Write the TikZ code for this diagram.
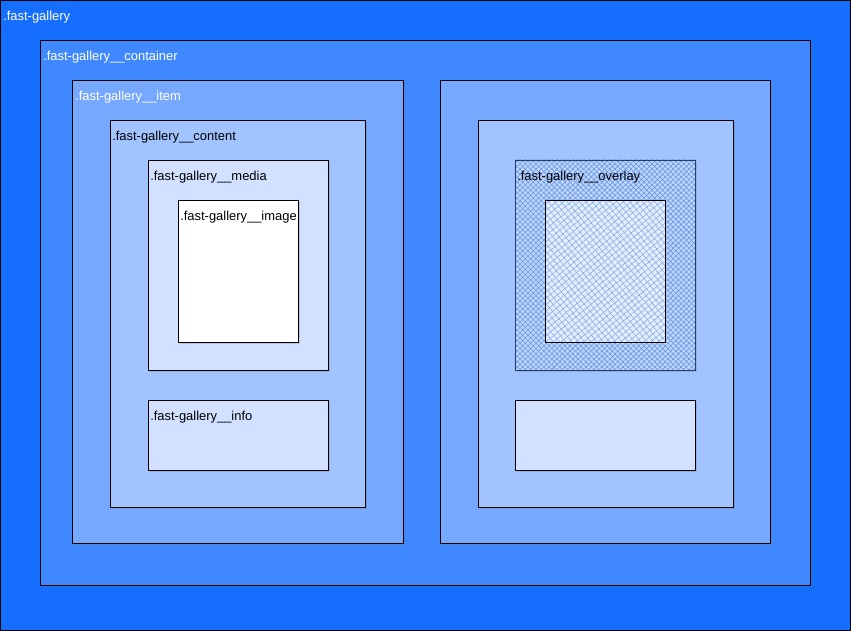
\documentclass[tikz,border=0pt]{standalone}
\usepackage{fontspec}
\setmainfont{Liberation Sans}
\usetikzlibrary{patterns.meta,shadows}
\definecolor{gallery}{HTML}{166EFF}
\definecolor{containerc}{HTML}{3F88FF}
\definecolor{itemc}{HTML}{76A8FF}
\definecolor{contentc}{HTML}{A1C3FF}
\definecolor{mediac}{HTML}{D1E1FF}
\definecolor{hatchc}{HTML}{4A86EA}
\tikzset{
  layer/.style={draw=black, line width=0.6pt, drop shadow={shadow xshift=1.2pt, shadow yshift=-1.2pt, opacity=0.3}},
  lbl/.style={anchor=north west, inner sep=0pt, font=\fontsize{9.7pt}{11pt}\selectfont},
  wlbl/.style={lbl, text=white},
}
\begin{document}
\begin{tikzpicture}[x=0.75pt,y=-0.75pt]
\useasboundingbox (0,0) rectangle (851,631);
% gallery root
\path[fill=gallery, draw=black, line width=0.6pt] (0.5,0.5) rectangle (850.5,630.5);
\node[wlbl] (lgallery) at (3,10.5) {.fast-gallery};
% container
\path[layer, fill=containerc] (40,40) rectangle (810,585);
\node[wlbl] (lcontainer) at (43,50.5) {.fast-gallery\_\_container};
% first item
\path[layer, fill=itemc] (72,80) rectangle (403,543);
\node[wlbl] (litem) at (75,90.5) {.fast-gallery\_\_item};
\path[layer, fill=contentc] (110,120) rectangle (365,507);
\node[lbl] (lcontent) at (112,130.5) {.fast-gallery\_\_content};
\path[layer, fill=mediac] (148,160) rectangle (328,370);
\node[lbl] (lmedia) at (150,170.5) {.fast-gallery\_\_media};
\path[layer, fill=white] (178,200) rectangle (298,342);
\node[lbl] (limage) at (180,210.5) {.fast-gallery\_\_image};
\path[layer, fill=mediac] (148,400) rectangle (328,470);
\node[lbl] (linfo) at (150,410.5) {.fast-gallery\_\_info};
% second item
\path[layer, fill=itemc] (440,80) rectangle (770,543);
\path[layer, fill=contentc] (478,120) rectangle (733,507);
% overlay with cross hatching
\path[fill=hatchc!35!white, drop shadow={shadow xshift=1.2pt, shadow yshift=-1.2pt, opacity=0.3}] (515,160) rectangle (695,370);
\path[pattern={Lines[angle=45,distance=2.8pt,line width=0.4pt]}, pattern color=hatchc!90!white] (515,160) rectangle (695,370);
\path[pattern={Lines[angle=-45,distance=2.8pt,line width=0.4pt]}, pattern color=hatchc!90!white] (515,160) rectangle (695,370);
\draw[hatchc!45!black, line width=0.6pt] (515,160) rectangle (695,370);
\node[lbl] (loverlay) at (517,170.5) {.fast-gallery\_\_overlay};
\path[fill=white!85!hatchc] (545,200) rectangle (665,342);
\path[pattern={Lines[angle=40,distance=3.6pt,line width=0.35pt]}, pattern color=hatchc!75!white] (545,200) rectangle (665,342);
\path[pattern={Lines[angle=-50,distance=3.6pt,line width=0.35pt]}, pattern color=hatchc!75!white] (545,200) rectangle (665,342);
\draw[black, line width=0.6pt] (545,200) rectangle (665,342);
\path[layer, fill=mediac] (515,400) rectangle (695,470);
\end{tikzpicture}
\end{document}
